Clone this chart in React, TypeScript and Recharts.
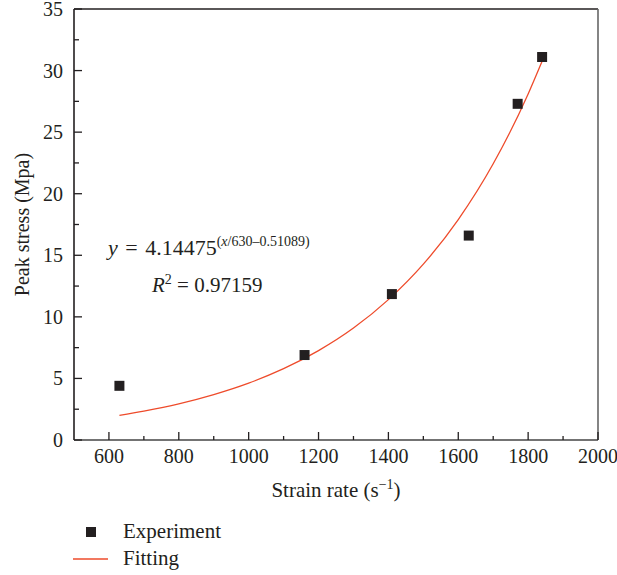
import React from 'react';
import {
  ComposedChart,
  Scatter,
  Line,
  XAxis,
  YAxis,
  ZAxis,
  Legend,
  ReferenceLine,
  Customized,
} from 'recharts';

const FONT = "'Liberation Serif', 'Times New Roman', serif";
const INK = '#231f20';
const RED = '#ee4b2b';

// measured points (strain rate, peak stress)
const EXP_RATE = [630, 1160, 1410, 1630, 1770, 1840];
const EXP_STRESS = [4.4, 6.9, 11.85, 16.6, 27.3, 31.1];

// fitted curve
const FIT_RATE = [630, 700, 800, 900, 1000, 1100, 1200, 1300, 1400, 1500, 1600, 1700, 1800, 1840];
const FIT_STRESS = [2.0, 2.35, 2.94, 3.69, 4.62, 5.79, 7.26, 9.09, 11.4, 14.28, 17.9, 22.43, 28.1, 30.76];

const X_TICKS = [600, 700, 800, 900, 1000, 1100, 1200, 1300, 1400, 1500, 1600, 1700, 1800, 1900, 2000];
const Y_TICKS = [0, 2.5, 5, 7.5, 10, 12.5, 15, 17.5, 20, 22.5, 25, 27.5, 30, 32.5, 35];

const expData = EXP_RATE.map((x, i) => ({ x, y: EXP_STRESS[i] }));
const fitData = FIT_RATE.map((x, i) => ({ x, y: FIT_STRESS[i] }));

const XTick = (props: any) => {
  const { x, y, payload } = props;
  const major = payload.value % 200 === 0;
  return (
    <g>
      <line x1={x} y1={y} x2={x} y2={y - (major ? 8 : 4)} stroke={INK} strokeWidth={1.3} />
      {major && (
        <text x={x} y={y + 23} textAnchor="middle" fontSize={20} fill={INK} fontFamily={FONT}>
          {payload.value}
        </text>
      )}
    </g>
  );
};

const YTick = (props: any) => {
  const { x, y, payload } = props;
  const major = payload.value % 5 === 0;
  return (
    <g>
      <line x1={x} y1={y} x2={x + (major ? 8 : 5)} y2={y} stroke={INK} strokeWidth={1.3} />
      {major && (
        <text x={x - 11} y={y + 7} textAnchor="end" fontSize={20} fill={INK} fontFamily={FONT}>
          {payload.value}
        </text>
      )}
    </g>
  );
};

const XLabel = (props: any) => {
  const { viewBox } = props;
  const cx = viewBox.x + viewBox.width / 2;
  return (
    <text x={cx} y={viewBox.y + 57} textAnchor="middle" fontSize={21} fill={INK} fontFamily={FONT}>
      Strain rate (s
      <tspan fontSize={14} dy={-8}>−1</tspan>
      <tspan dy={8}>)</tspan>
    </text>
  );
};

const YLabel = (props: any) => {
  const { viewBox } = props;
  const cy = viewBox.y + viewBox.height / 2;
  return (
    <text
      x={29}
      y={cy}
      transform={`rotate(-90, 29, ${cy})`}
      textAnchor="middle"
      fontSize={20}
      fill={INK}
      fontFamily={FONT}
    >
      Peak stress (Mpa)
    </text>
  );
};

const Annotation = () => (
  <g fontFamily={FONT} fill={INK}>
    <text x={108} y={255} fontSize={22} wordSpacing={2}>
      <tspan fontStyle="italic">y</tspan> = 4.14475
      <tspan fontSize={14} dy={-9} wordSpacing={0}>
        (<tspan fontStyle="italic">x</tspan>/630–0.51089)
      </tspan>
    </text>
    <text x={152} y={292} fontSize={21}>
      <tspan fontStyle="italic">R</tspan>
      <tspan fontSize={14} dy={-8}>2</tspan>
      <tspan dy={8}> = 0.97159</tspan>
    </text>
  </g>
);

const LegendBox = (props: any) => {
  const items = props.payload || [];
  return (
    <svg width={220} height={60} style={{ display: 'block' }}>
      {items.map((it: any, i: number) => {
        const cy = 14 + i * 27;
        return (
          <g key={it.value}>
            {it.type === 'line' ? (
              <line x1={3} x2={38} y1={cy} y2={cy} stroke={RED} strokeWidth={1.3} />
            ) : (
              <rect x={16} y={cy - 5} width={10} height={10} fill={INK} />
            )}
            <text x={53} y={cy + 6} fontSize={21} fill={INK} fontFamily={FONT}>
              {it.value}
            </text>
          </g>
        );
      })}
    </svg>
  );
};

export default function App() {
  return (
    <div style={{ position: 'absolute', left: 0, top: 0, width: 617, height: 575, background: '#fff' }}>
      <ComposedChart width={617} height={575} margin={{ top: 9, right: 19, left: 0, bottom: 75 }}>
        <XAxis
          type="number"
          dataKey="x"
          domain={[500, 2000]}
          ticks={X_TICKS}
          interval={0}
          tickSize={0}
          tickMargin={0}
          tickLine={false}
          tick={<XTick />}
          height={60}
          axisLine={{ stroke: '#444', strokeWidth: 1.6 }}
          allowDataOverflow
          label={<XLabel />}
        />
        <YAxis
          type="number"
          dataKey="y"
          domain={[0, 35]}
          ticks={Y_TICKS}
          interval={0}
          tickSize={0}
          tickMargin={0}
          tickLine={false}
          tick={<YTick />}
          width={74}
          axisLine={{ stroke: INK, strokeWidth: 1.6 }}
          allowDataOverflow
          label={<YLabel />}
        />
        <ZAxis type="number" range={[100, 100]} />
        <ReferenceLine y={35} stroke={INK} strokeWidth={1.3} ifOverflow="extendDomain" />
        <ReferenceLine x={2000} stroke="#666" strokeWidth={1.6} ifOverflow="extendDomain" />
        <Line
          data={fitData}
          dataKey="y"
          name="Fitting"
          type="monotone"
          stroke={RED}
          strokeWidth={1.3}
          dot={false}
          legendType="line"
          isAnimationActive={false}
        />
        <Scatter
          data={expData}
          dataKey="y"
          name="Experiment"
          fill={INK}
          shape="square"
          legendType="square"
          isAnimationActive={false}
        />
        <Customized component={<Annotation />} />
        <Legend
          layout="vertical"
          verticalAlign="middle"
          align="center"
          content={(p: any) => {
            const sorted = [...(p.payload || [])].sort((a: any, b: any) =>
              a.type === 'line' ? 1 : b.type === 'line' ? -1 : 0,
            );
            return <LegendBox payload={sorted} />;
          }}
          wrapperStyle={{ left: 70, top: 518, width: 220, height: 60 }}
        />
      </ComposedChart>
    </div>
  );
}
